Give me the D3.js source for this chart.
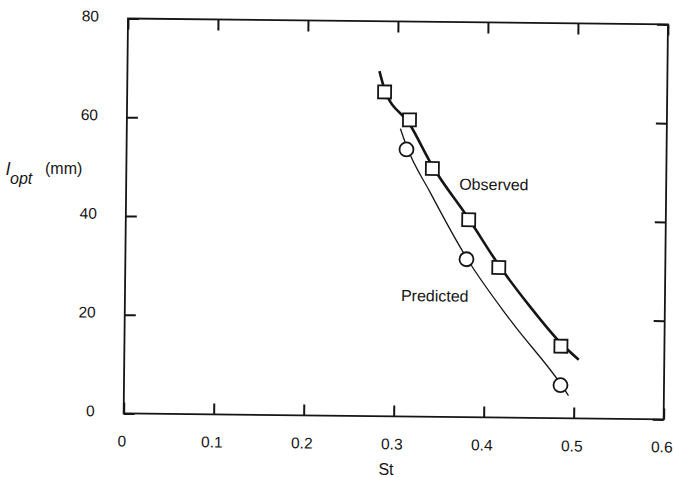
<!DOCTYPE html>
<html>
<head>
<meta charset="utf-8">
<script src="https://cdn.jsdelivr.net/npm/d3@7"></script>
<style>
    body { margin: 0; background: #fff; }
    svg { display: block; }
    .chart text { font-family: "Liberation Sans", Arial, sans-serif; fill: #151515; }
    .tick line { stroke: #151515; stroke-width: 2; }
    .frame { fill: none; stroke: #151515; stroke-width: 1.8; }
    .line { fill: none; stroke: #151515; }
    .observed-line { stroke-width: 2.6; }
    .predicted-line { stroke-width: 1.3; }
    .marker { fill: #fff; stroke: #151515; stroke-width: 1.8; }
</style>
</head>
<body>
<svg id="chart" width="673" height="477"></svg>
<script>
// ticks
const xTicks = [0, 0.1, 0.2, 0.3, 0.4, 0.5, 0.6];
const yTicks = [0, 20, 40, 60, 80];

// measured points
const observedSt = [0.286, 0.314, 0.340, 0.381, 0.415, 0.485];
const observedL = [65.7, 60.1, 50.3, 40.0, 30.4, 14.6];
const predictedSt = [0.311, 0.379, 0.485];
const predictedL = [54.1, 32.0, 6.7];

// fitted curves
const observedCurveSt = [0.280, 0.286, 0.314, 0.340, 0.381, 0.415, 0.450, 0.485, 0.505];
const observedCurveL = [69.9, 66.2, 59.3, 50.8, 40.2, 30.9, 22.6, 15.2, 11.9];
const predictedCurveSt = [0.304, 0.311, 0.338, 0.379, 0.430, 0.485, 0.494];
const predictedCurveL = [58.3, 54.8, 45.4, 32.3, 19.4, 7.0, 4.6];

const labelObserved = "Observed";
const labelPredicted = "Predicted";

const width = 540, height = 395;
const svg = d3.select("#chart");

// the scanned figure is tilted slightly clockwise
const g = svg.append("g")
    .attr("class", "chart")
    .attr("transform", "translate(128,18.5) rotate(0.63)");

const x = d3.scaleLinear().domain([0, 0.6]).range([0, width]);
const y = d3.scaleLinear().domain([0, 80]).range([height, 0]);

g.append("g")
    .attr("transform", "translate(0," + height + ")")
    .call(d3.axisBottom(x).tickValues(xTicks).tickSize(-11).tickSizeOuter(0).tickPadding(22)
        .tickFormat(d => d === 0 ? "0" : d3.format(".1f")(d)))
    .call(a => a.select(".domain").remove())
    .selectAll("text").attr("font-size", 15.5).attr("dx", -2);

g.append("g")
    .call(d3.axisLeft(y).tickValues(yTicks).tickSize(-11).tickSizeOuter(0).tickPadding(29))
    .call(a => a.select(".domain").remove())
    .selectAll("text").attr("font-size", 15.5).attr("dy", "0.18em");

g.append("g")
    .call(d3.axisTop(x).tickValues(xTicks).tickSize(-11).tickSizeOuter(0).tickFormat(""))
    .call(a => a.select(".domain").remove());

g.append("g")
    .attr("transform", "translate(" + width + ",0)")
    .call(d3.axisRight(y).tickValues(yTicks).tickSize(-11).tickSizeOuter(0).tickFormat(""))
    .call(a => a.select(".domain").remove());

g.append("rect").attr("class", "frame")
    .attr("width", width).attr("height", height);

const line = d3.line()
    .x(d => x(d[0]))
    .y(d => y(d[1]))
    .curve(d3.curveMonotoneX);

g.append("path").attr("class", "line observed-line")
    .attr("d", line(d3.zip(observedCurveSt, observedCurveL)));
g.append("path").attr("class", "line predicted-line")
    .attr("d", line(d3.zip(predictedCurveSt, predictedCurveL)));

const sq = 13;
g.selectAll(".obs").data(d3.zip(observedSt, observedL)).enter()
    .append("rect").attr("class", "marker obs")
    .attr("x", d => x(d[0]) - sq / 2)
    .attr("y", d => y(d[1]) - sq / 2)
    .attr("width", sq).attr("height", sq);

g.selectAll(".pred").data(d3.zip(predictedSt, predictedL)).enter()
    .append("circle").attr("class", "marker pred")
    .attr("cx", d => x(d[0]))
    .attr("cy", d => y(d[1]))
    .attr("r", 7);

g.append("text").attr("x", 333).attr("y", 167.5).attr("font-size", 16).text(labelObserved);
g.append("text").attr("x", 276).attr("y", 279.5).attr("font-size", 16).text(labelPredicted);

// axis titles, not tilted
const titles = svg.append("g").attr("class", "chart");
titles.append("text").attr("x", 386).attr("y", 475).attr("text-anchor", "middle")
    .attr("font-size", 16).text("St");
const yt = titles.append("text").attr("x", 6).attr("y", 175);
yt.append("tspan").attr("font-style", "italic").attr("font-size", 18).text("l");
yt.append("tspan").attr("x", 10).attr("y", 184).attr("font-style", "italic")
    .attr("font-size", 16).text("opt");
yt.append("tspan").attr("x", 45).attr("y", 174).attr("font-size", 16).text("(mm)");
</script>
</body>
</html>
